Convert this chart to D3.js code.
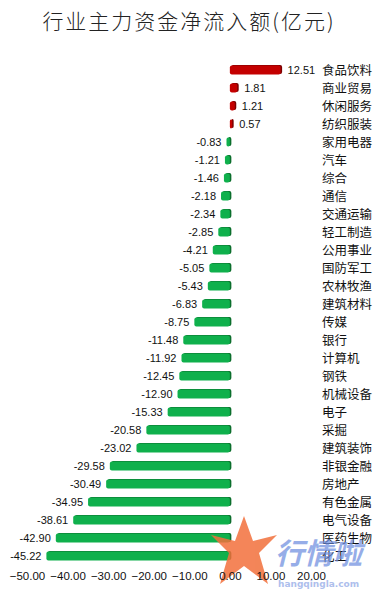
<!DOCTYPE html>
<html><head><meta charset="utf-8">
<script src="https://cdn.jsdelivr.net/npm/d3@7"></script>
<style>body{margin:0;background:#fff;}svg{display:block;}</style>
</head><body>
<svg id="chart" width="377" height="596"></svg>
<script>
const categories = ["食品饮料","商业贸易","休闲服务","纺织服装","家用电器","汽车","综合","通信","交通运输","轻工制造","公用事业","国防军工","农林牧渔","建筑材料","传媒","银行","计算机","钢铁","机械设备","电子","采掘","建筑装饰","非银金融","房地产","有色金属","电气设备","医药生物","化工"];
const values = [12.51,1.81,1.21,0.57,-0.83,-1.21,-1.46,-2.18,-2.34,-2.85,-4.21,-5.05,-5.43,-6.83,-8.75,-11.48,-11.92,-12.45,-12.90,-15.33,-20.58,-23.02,-29.58,-30.49,-34.95,-38.61,-42.90,-45.22];
const xTicks = [-50,-40,-30,-20,-10,0,10,20];
const title = "行业主力资金净流入额(亿元)";

const svg = d3.select("#chart");
const x = d3.scaleLinear().domain([-50,20]).range([27,311]);
const y = d3.scaleBand().domain(categories).range([61,565]).paddingInner(0.5).paddingOuter(0.25);
const data = categories.map((c,i)=>({c, v: values[i]}));

svg.append("text").attr("x",189).attr("y",29).attr("text-anchor","middle")
  .attr("font-family","'Noto Sans CJK SC'").attr("font-size",21).attr("font-weight",300).attr("letter-spacing",2).attr("fill","#222").text(title);

const g = svg.append("g");
const bh = y.bandwidth();
g.selectAll("rect.side").data(data).join("rect").attr("class","side")
  .attr("x", d=>Math.min(x(0),x(d.v))+1.5)
  .attr("y", d=>y(d.c)-0.5)
  .attr("width", d=>Math.max(2,Math.abs(x(d.v)-x(0))))
  .attr("height", bh)
  .attr("rx",2)
  .attr("fill", d=>d.v>=0?"#7a0000":"#0b6e2c");
g.selectAll("rect.bar").data(data).join("rect").attr("class","bar")
  .attr("x", d=>Math.min(x(0),x(d.v)))
  .attr("y", d=>y(d.c))
  .attr("width", d=>Math.max(2,Math.abs(x(d.v)-x(0))))
  .attr("height", bh)
  .attr("rx",2)
  .attr("fill", d=>d.v>=0?"#c40000":"#0fb04c");

g.selectAll("text.val").data(data).join("text").attr("class","val")
  .attr("x", d=> d.v>=0 ? x(d.v)+7 : x(d.v)-5)
  .attr("y", d=>y(d.c)+bh/2)
  .attr("dy","0.36em")
  .attr("text-anchor", d=>d.v>=0?"start":"end")
  .attr("font-family","'Liberation Sans', Arial").attr("font-size",11).attr("fill","#111")
  .text(d=>d.v.toFixed(2));

g.selectAll("text.cat").data(data).join("text").attr("class","cat")
  .attr("x",322).attr("y", d=>y(d.c)+bh/2).attr("dy","0.36em")
  .attr("font-family","'Noto Sans CJK SC'").attr("font-size",12.5).attr("fill","#111")
  .text(d=>d.c);

// watermark
const wm = svg.append("g").attr("opacity",0.85);
wm.append("path").attr("d","M244,516 L253,541 L277,535 L259,553 L268,584 L244,566 L220,584 L229,553 L211,535 L235,541 Z")
  .attr("fill","#f2703c");
wm.append("text").attr("x",275).attr("y",564).attr("font-family","'Noto Sans CJK SC'").attr("font-weight","bold")
  .attr("font-style","italic").attr("font-size",29).attr("fill","#6f8fe0").attr("opacity",0.85).text("行情啦");
wm.append("text").attr("x",278).attr("y",587).attr("font-family","'DejaVu Sans'").attr("font-weight","bold")
  .attr("font-size",9).attr("fill","#9fb4ea").text("hangqingla.com");

const axis = d3.axisBottom(x).tickValues(xTicks).tickSize(0).tickFormat(d=>d3.format(".2f")(d));
const ax = svg.append("g").attr("transform","translate(0,569)").call(axis);
ax.select(".domain").remove();
ax.selectAll("text").attr("font-family","'Liberation Sans', Arial").attr("font-size",11.5).attr("fill","#111");
</script>
</body></html>
